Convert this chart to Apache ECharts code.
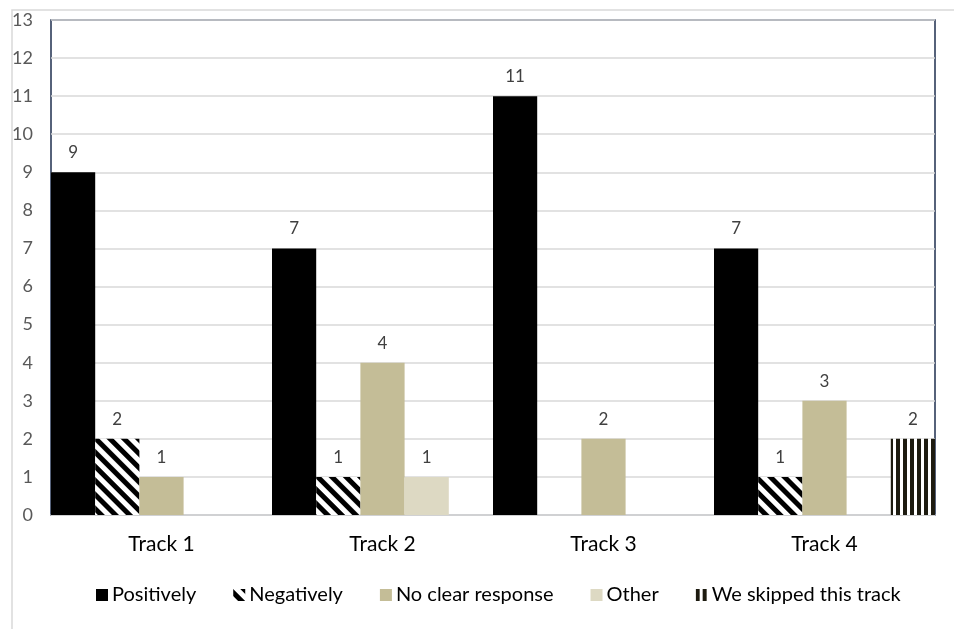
<!DOCTYPE html>
<html><head><meta charset="utf-8">
<script src="https://cdn.jsdelivr.net/npm/echarts@6/dist/echarts.min.js"></script>
<style>html,body{margin:0;padding:0;background:#fff}#c{width:954px;height:629px}</style>
</head><body><div id="c"></div>
<script>
const categories = ['Track 1','Track 2','Track 3','Track 4'];
const positively = [9, 7, 11, 7];
const negatively = [2, 1, 0, 1];
const noClear = [1, 4, 2, 3];
const other = [0, 1, 0, 0];
const skipped = [0, 0, 0, 2];
const yTicks = {min: 0, max: 13, interval: 1};

const nz = a => a.map(v => v === 0 ? null : v);
const label = {show: true, position: 'top', distance: 11, color: '#404040', fontSize: 17, fontFamily: 'Lato'};

const chart = echarts.init(document.getElementById('c'), null, {renderer: 'canvas'});
chart.setOption({
  animation: false,
  backgroundColor: '#fff',
  textStyle: {fontFamily: 'Lato'},
  graphic: [{type: 'rect', z: -10, shape: {x: 12, y: 10, width: 1000, height: 1000}, style: {fill: 'none', stroke: '#d9d9d9', lineWidth: 1.5}}],
  grid: {left: 51, right: 19, top: 20, bottom: 114, show: true, borderColor: '#1f2f4f', borderWidth: 1.5, backgroundColor: 'transparent'},
  legend: {
    bottom: 19, left: 91, itemWidth: 12, itemHeight: 12, itemGap: 37, icon: 'rect',
    textStyle: {fontSize: 20, color: '#000', fontFamily: 'Lato', padding: [0,0,0,-1]},
    data: ['Positively','Negatively','No clear response','Other','We skipped this track']
  },
  xAxis: {
    type: 'category', data: categories,
    axisLine: {show: true, lineStyle: {color: '#d9d9d9', width: 1.5}},
    axisTick: {show: false},
    axisLabel: {color: '#000', fontSize: 21, margin: 19, fontFamily: 'Lato'}
  },
  yAxis: {
    type: 'value', min: yTicks.min, max: yTicks.max, interval: yTicks.interval,
    axisLine: {show: false}, axisTick: {show: false},
    splitLine: {lineStyle: {color: '#d9d9d9', width: 1.5}},
    axisLabel: {color: '#595959', fontSize: 18, margin: 18, fontFamily: 'Lato'}
  },
  series: [
    {name: 'Positively', type: 'bar', data: nz(positively), barGap: '0%', barCategoryGap: '0%', itemStyle: {color: '#000'}, label},
    {name: 'Negatively', type: 'bar', data: nz(negatively), itemStyle: {color: '#fff', decal: {symbol: 'rect', color: '#000', dashArrayX: [1, 0], dashArrayY: [5, 5], rotation: Math.PI / 4}}, label},
    {name: 'No clear response', type: 'bar', data: nz(noClear), itemStyle: {color: '#c4bd97'}, label},
    {name: 'Other', type: 'bar', data: nz(other), itemStyle: {color: '#ddd9c3'}, label},
    {name: 'We skipped this track', type: 'bar', data: nz(skipped), itemStyle: {color: '#fff', decal: {symbol: 'rect', color: '#1d1b10', dashArrayX: [[4, 3]], dashArrayY: [1, 0]}}, label}
  ]
});
</script></body></html>
